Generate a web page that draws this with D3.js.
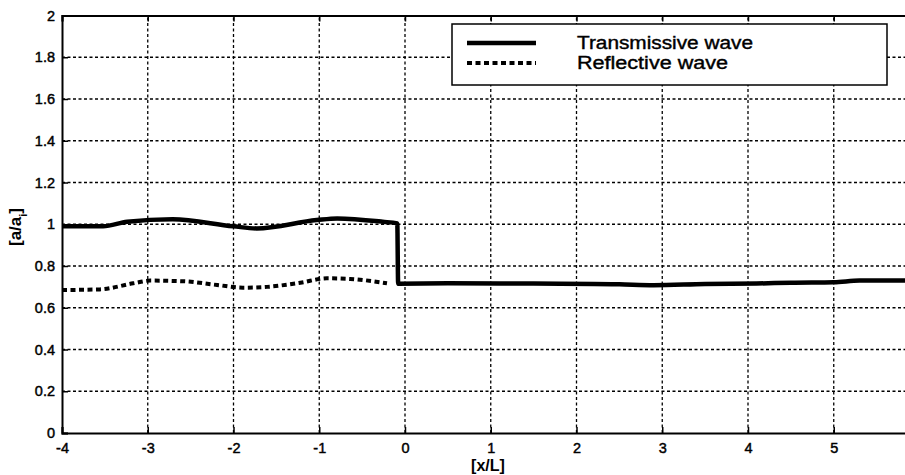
<!DOCTYPE html>
<html>
<head>
<meta charset="utf-8">
<script src="https://cdn.jsdelivr.net/npm/d3@7"></script>
<style>
  body { margin: 0; background: #fff; }
  svg { display: block; font-family: Arial, "Liberation Sans", sans-serif; }
</style>
</head>
<body>
<div class="chart"></div>
<script>
// values
const transX = [-4, -3.52, -3.24, -2.71, -2.0, -1.73, -1.03, -0.79, -0.26, -0.09, -0.08, 0.5, 1.5, 2.5, 2.9, 3.5, 4.1, 4.5, 5.0, 5.3, 6];
const transY = [0.99, 0.99, 1.012, 1.024, 0.99, 0.98, 1.02, 1.028, 1.012, 1.004, 0.715, 0.717, 0.716, 0.712, 0.708, 0.714, 0.716, 0.72, 0.722, 0.73, 0.73];
const reflX = [-4, -3.56, -3.17, -2.97, -2.59, -2.19, -1.89, -1.61, -1.22, -0.91, -0.64, -0.21];
const reflY = [0.685, 0.688, 0.717, 0.73, 0.727, 0.709, 0.696, 0.70, 0.72, 0.741, 0.738, 0.717];
const xTicks = [-4, -3, -2, -1, 0, 1, 2, 3, 4, 5];
const yTicks = [0, 0.2, 0.4, 0.6, 0.8, 1, 1.2, 1.4, 1.6, 1.8, 2];
const seriesNames = ["Transmissive wave", "Reflective wave"];

const width = 905, height = 475;
const margin = {top: 15.5, left: 62, bottom: 42};

const svg = d3.select(".chart").append("svg")
    .attr("width", width)
    .attr("height", height);

const x = d3.scaleLinear()
    .domain([-4, 6])
    .range([margin.left, margin.left + 10 * 85.75]);

const y = d3.scaleLinear()
    .domain([0, 2])
    .range([height - margin.bottom, margin.top]);

// grid
const grid = svg.append("g")
    .attr("stroke", "#000")
    .attr("stroke-width", 1.3)
    .attr("stroke-dasharray", "3,2.5");
grid.selectAll(".vg")
    .data(xTicks.slice(1))
    .enter().append("line")
    .attr("x1", d => x(d)).attr("x2", d => x(d))
    .attr("y1", y(0)).attr("y2", y(2));
grid.selectAll(".hg")
    .data(yTicks.slice(1, -1))
    .enter().append("line")
    .attr("x1", x(-4)).attr("x2", width)
    .attr("y1", d => y(d)).attr("y2", d => y(d));

// axes
const fmt = d => String(d);
svg.append("g")
    .attr("transform", `translate(0, ${y(0)})`)
    .call(d3.axisBottom(x).tickValues(xTicks).tickFormat(fmt).tickSize(-6).tickPadding(10))
    .call(g => g.select(".domain").attr("stroke-width", 2))
    .selectAll("text")
    .style("font-size", "14.5px")
    .attr("fill", "#000")
    .attr("stroke", "#000")
    .attr("stroke-width", 0.45);

svg.append("g")
    .attr("transform", `translate(0, ${y(2)})`)
    .call(d3.axisTop(x).tickValues(xTicks).tickFormat("").tickSize(-6))
    .call(g => g.select(".domain").attr("stroke-width", 2));

svg.append("g")
    .attr("transform", `translate(${x(-4)}, 0)`)
    .call(d3.axisLeft(y).tickValues(yTicks).tickFormat(fmt).tickSize(-6).tickPadding(7))
    .call(g => g.select(".domain").attr("stroke-width", 2))
    .selectAll("text")
    .style("font-size", "14.5px")
    .attr("fill", "#000")
    .attr("stroke", "#000")
    .attr("stroke-width", 0.45);

svg.selectAll(".tick line").attr("stroke-width", 1.5);

// curves
svg.append("clipPath").attr("id", "clip")
    .append("rect")
    .attr("x", x(-4)).attr("y", y(2))
    .attr("width", width - x(-4)).attr("height", y(0) - y(2));

const line = d3.line().x(d => x(d[0])).y(d => y(d[1])).curve(d3.curveMonotoneX);

svg.append("path")
    .datum(reflX.map((v, i) => [v, reflY[i]]))
    .attr("clip-path", "url(#clip)")
    .attr("fill", "none")
    .attr("stroke", "#000")
    .attr("stroke-width", 4)
    .attr("stroke-dasharray", "5,3.5")
    .attr("d", line);

svg.append("path")
    .datum(transX.map((v, i) => [v, transY[i]]))
    .attr("clip-path", "url(#clip)")
    .attr("fill", "none")
    .attr("stroke", "#000")
    .attr("stroke-width", 4.5)
    .attr("d", line);

// legend
const legend = svg.append("g");
legend.append("rect")
    .attr("x", 452).attr("y", 24)
    .attr("width", 435).attr("height", 61)
    .attr("fill", "#fff")
    .attr("stroke", "#000")
    .attr("stroke-width", 1.5);

legend.append("line")
    .attr("x1", 467).attr("x2", 536)
    .attr("y1", 43).attr("y2", 43)
    .attr("stroke", "#000").attr("stroke-width", 4.5);
legend.append("line")
    .attr("x1", 467).attr("x2", 536)
    .attr("y1", 63).attr("y2", 63)
    .attr("stroke", "#000").attr("stroke-width", 4)
    .attr("stroke-dasharray", "5,3.5");

legend.selectAll(".lt")
    .data(seriesNames)
    .enter().append("text")
    .attr("x", 577)
    .attr("y", (d, i) => 48.5 + i * 20)
    .attr("textLength", (d, i) => i === 0 ? 176 : 151)
    .attr("lengthAdjust", "spacingAndGlyphs")
    .attr("stroke", "#000")
    .attr("stroke-width", 0.4)
    .style("font-size", "18px")
    .text(d => d);

// axis labels
svg.append("text")
    .attr("x", 488)
    .attr("y", 471)
    .attr("text-anchor", "middle")
    .style("font-size", "16px")
    .style("font-weight", "bold")
    .text("[x/L]");

const yl = svg.append("text")
    .attr("transform", "translate(21, 227) rotate(-90)")
    .attr("text-anchor", "middle")
    .style("font-size", "17px")
    .style("font-weight", "bold");
yl.append("tspan").text("[a/a");
yl.append("tspan").attr("baseline-shift", "sub").style("font-size", "11px").text("i");
yl.append("tspan").text("]");
</script>
</body>
</html>
